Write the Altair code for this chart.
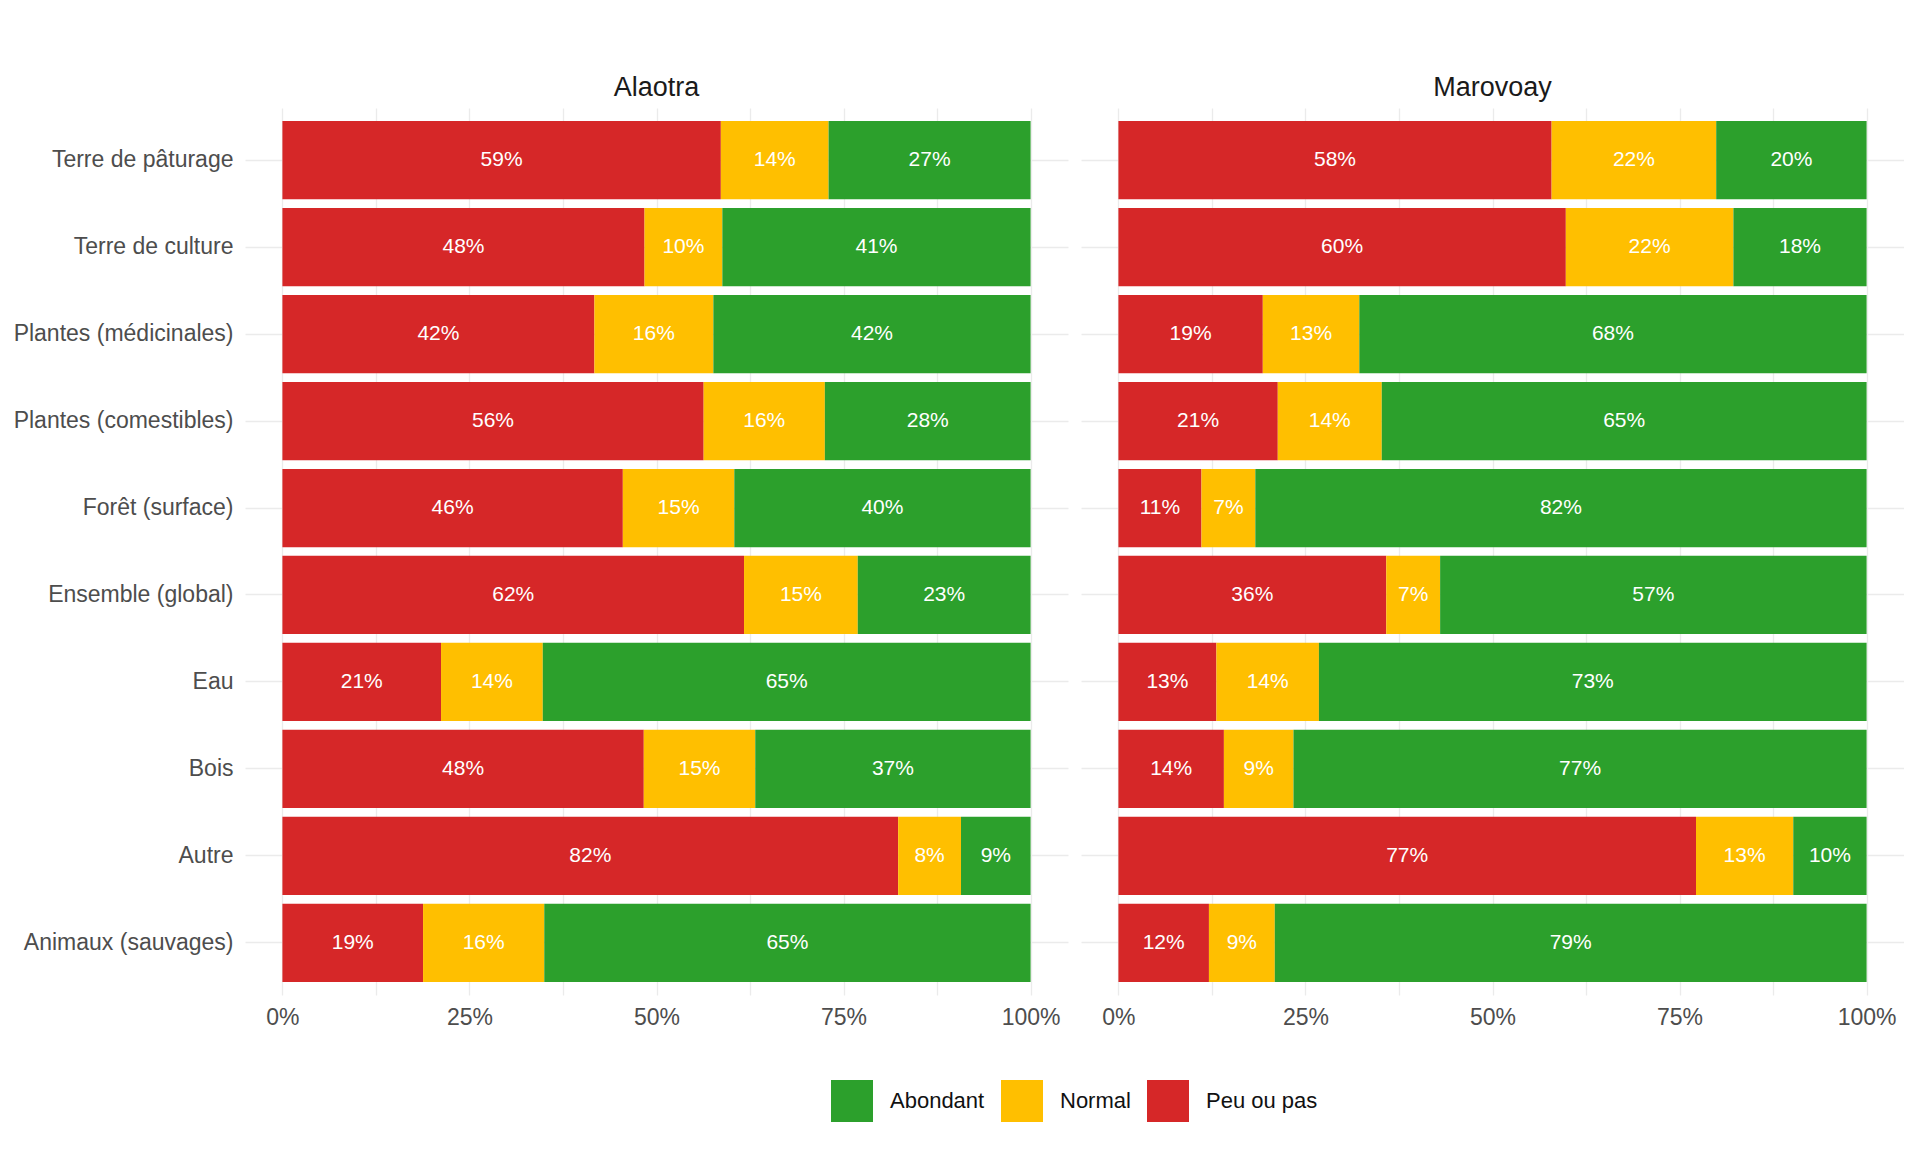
import altair as alt
import pandas as pd

categories = ["Terre de pâturage", "Terre de culture", "Plantes (médicinales)",
              "Plantes (comestibles)", "Forêt (surface)", "Ensemble (global)",
              "Eau", "Bois", "Autre", "Animaux (sauvages)"]
regions = ["Alaotra", "Marovoay"]
levels = ["Peu ou pas", "Normal", "Abondant"]

# percentages per category (same order as categories)
alaotra_peu = [58.6, 48.4, 41.7, 56.3, 45.5, 61.7, 21.2, 48.3, 82.3, 18.8]
alaotra_normal = [14.4, 10.4, 15.9, 16.2, 14.9, 15.2, 13.6, 14.9, 8.4, 16.2]
alaotra_abond = [27.0, 41.2, 42.4, 27.5, 39.6, 23.1, 65.2, 36.8, 9.3, 65.0]

marovoay_peu = [57.9, 59.8, 19.3, 21.3, 11.1, 35.8, 13.1, 14.1, 77.2, 12.1]
marovoay_normal = [22.0, 22.4, 12.9, 13.9, 7.2, 7.2, 13.7, 9.3, 13.0, 8.8]
marovoay_abond = [20.1, 17.8, 67.8, 64.8, 81.7, 57.0, 73.2, 76.6, 9.8, 79.1]

x_ticks = [0, 0.125, 0.25, 0.375, 0.5, 0.625, 0.75, 0.875, 1.0]

series = {
    ("Alaotra", "Peu ou pas"): alaotra_peu,
    ("Alaotra", "Normal"): alaotra_normal,
    ("Alaotra", "Abondant"): alaotra_abond,
    ("Marovoay", "Peu ou pas"): marovoay_peu,
    ("Marovoay", "Normal"): marovoay_normal,
    ("Marovoay", "Abondant"): marovoay_abond,
}
rows = []
for (reg, lev), vals in series.items():
    for cat, v in zip(categories, vals):
        rows.append({"region": reg, "cat": cat, "level": lev,
                     "ord": levels.index(lev), "value": v / 100.0})
df = pd.DataFrame(rows)

FONT = "Liberation Sans"
colors = ["#2CA02C", "#FFBF00", "#D62728"]

base = alt.Chart(df).transform_stack(
    stack="value", groupby=["region", "cat"], as_=["x0", "x1"],
    sort=[alt.SortField("ord", order="ascending")]
).transform_calculate(mid="(datum.x0 + datum.x1) / 2")

yenc = alt.Y("cat:N", sort=categories,
             scale=alt.Scale(paddingInner=0.1, paddingOuter=0.15),
             axis=alt.Axis(title=None, grid=True, gridColor="#EBEBEB", gridWidth=1.3,
                           ticks=False, domain=False, labelFontSize=23,
                           labelColor="#4D4D4D", labelFont=FONT, labelPadding=12,
                           labelLimit=0, bandPosition=0.5))
xscale = alt.Scale(domain=[-0.05, 1.05], nice=False, zero=False)

bars = base.mark_bar().encode(
    x=alt.X("x0:Q", scale=xscale,
            axis=alt.Axis(title=None, values=x_ticks, grid=True, gridColor="#EBEBEB",
                          gridWidth=1.3, ticks=False, domain=False,
                          labelExpr="(datum.value * 4) % 1 == 0 ? format(datum.value, '.0%') : ''",
                          labelFontSize=23, labelColor="#4D4D4D", labelFont=FONT,
                          labelPadding=11, labelFlush=False)),
    x2="x1:Q",
    y=yenc,
    color=alt.Color("level:N", scale=alt.Scale(domain=["Abondant", "Normal", "Peu ou pas"],
                                               range=colors),
                    legend=alt.Legend(title=None, orient="none", direction="horizontal",
                                      legendX=586, legendY=972,
                                      symbolType="square", symbolSize=1764,
                                      symbolStrokeWidth=0, symbolOpacity=1,
                                      labelFontSize=22, labelFont=FONT,
                                      labelColor="#111111", labelOffset=17,
                                      columnPadding=16, padding=0)),
)

labels = base.mark_text(color="white", fontSize=21, font=FONT).encode(
    x=alt.X("mid:Q", scale=xscale),
    y=alt.Y("cat:N", sort=categories),
    text=alt.Text("value:Q", format=".0%"),
)

chart = alt.layer(bars, labels).properties(width=823, height=887).facet(
    column=alt.Facet("region:N", title=None, sort=regions,
                     header=alt.Header(labelFontSize=27, labelFont=FONT,
                                       labelColor="#1A1A1A", labelPadding=6)),
    spacing=13,
).properties(
    padding={"left": 5, "top": 66, "right": 0, "bottom": 0},
    background="white",
).configure_view(strokeWidth=0, stroke="transparent")

chart.save("out.html", embed_options={"renderer": "svg", "actions": False})
